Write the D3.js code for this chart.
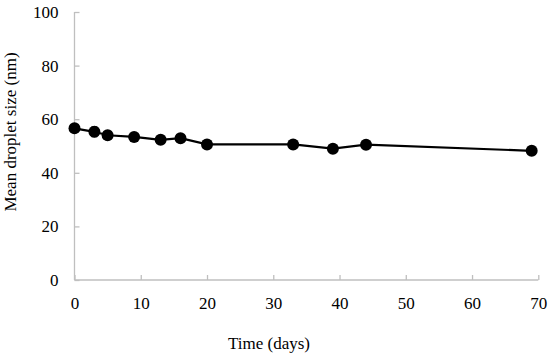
<!DOCTYPE html>
<html>
<head>
<meta charset="utf-8">
<script src="https://cdn.jsdelivr.net/npm/d3@7"></script>
<style>
  body { margin: 0; background: #fff; }
</style>
</head>
<body>
<svg width="550" height="358"></svg>
<script>
const days = [0, 3, 5, 9, 13, 16, 20, 33, 39, 44, 69];
const meanSize = [56.6, 55.3, 54.0, 53.4, 52.3, 52.9, 50.6, 50.6, 49.0, 50.5, 48.2];
const errors = [0.6, 1.8, 0.8, 0.6, 0.7, 0.6, 0.5, 0.5, 0.6, 0.5, 0.5];
const xTicks = [0, 10, 20, 30, 40, 50, 60, 70];
const yTicks = [0, 20, 40, 60, 80, 100];

const data = days.map((d, i) => ({ day: d, size: meanSize[i], err: errors[i] }));

const svg = d3.select('svg');
const axisColor = '#bfbfbf';
const serif = "'Liberation Serif', 'DejaVu Serif', serif";

const x = d3.scaleLinear([0, 70], [74.5, 538.3]);
const y = d3.scaleLinear([0, 100], [280, 12]);

const xAxis = d3.axisBottom(x).tickValues(xTicks).tickSize(-5).tickPadding(17);
const yAxis = d3.axisLeft(y).tickValues(yTicks).tickSize(-5).tickPadding(16);

const gx = svg.append('g')
  .attr('transform', `translate(0, ${y(0)})`)
  .call(xAxis);
gx.select('.domain').attr('stroke', axisColor).attr('stroke-width', 1.3)
  .attr('d', `M${x(0)},0H${x(70)}`);
gx.selectAll('.tick line').attr('stroke', axisColor).attr('stroke-width', 1.3);
gx.selectAll('text')
  .style('font-family', serif)
  .style('font-size', '17px')
  .attr('fill', '#000');

const gy = svg.append('g')
  .attr('transform', `translate(${x(0)}, 0)`)
  .call(yAxis);
gy.select('.domain').attr('stroke', axisColor).attr('stroke-width', 1.3)
  .attr('d', `M0,${y(0)}V${y(100)}`);
gy.selectAll('.tick line').attr('stroke', axisColor).attr('stroke-width', 1.3);
gy.selectAll('text')
  .style('font-family', serif)
  .style('font-size', '17px')
  .attr('fill', '#000');

const line = d3.line()
  .x((d) => x(d.day))
  .y((d) => y(d.size));

svg.append('path')
  .attr('d', line(data))
  .attr('fill', 'none')
  .attr('stroke', '#000')
  .attr('stroke-width', 2.2);

// error bars
const eb = svg.append('g').attr('stroke', '#000').attr('stroke-width', 1.2);
data.forEach((d) => {
  eb.append('line')
    .attr('x1', x(d.day)).attr('x2', x(d.day))
    .attr('y1', y(d.size - d.err)).attr('y2', y(d.size + d.err));
  [d.size - d.err, d.size + d.err].forEach((v) => {
    eb.append('line')
      .attr('x1', x(d.day) - 3).attr('x2', x(d.day) + 3)
      .attr('y1', y(v)).attr('y2', y(v));
  });
});

svg.selectAll('circle')
  .data(data)
  .join('circle')
    .attr('cx', (d) => x(d.day))
    .attr('cy', (d) => y(d.size))
    .attr('r', 6)
    .attr('fill', '#000');

svg.append('text')
  .text('Time (days)')
  .attr('x', 269)
  .attr('y', 349)
  .attr('text-anchor', 'middle')
  .style('font-family', serif)
  .style('font-size', '17px');

svg.append('text')
  .text('Mean droplet size (nm)')
  .attr('transform', `translate(16, 132) rotate(-90)`)
  .attr('text-anchor', 'middle')
  .style('font-family', serif)
  .style('font-size', '17px');
</script>
</body>
</html>
